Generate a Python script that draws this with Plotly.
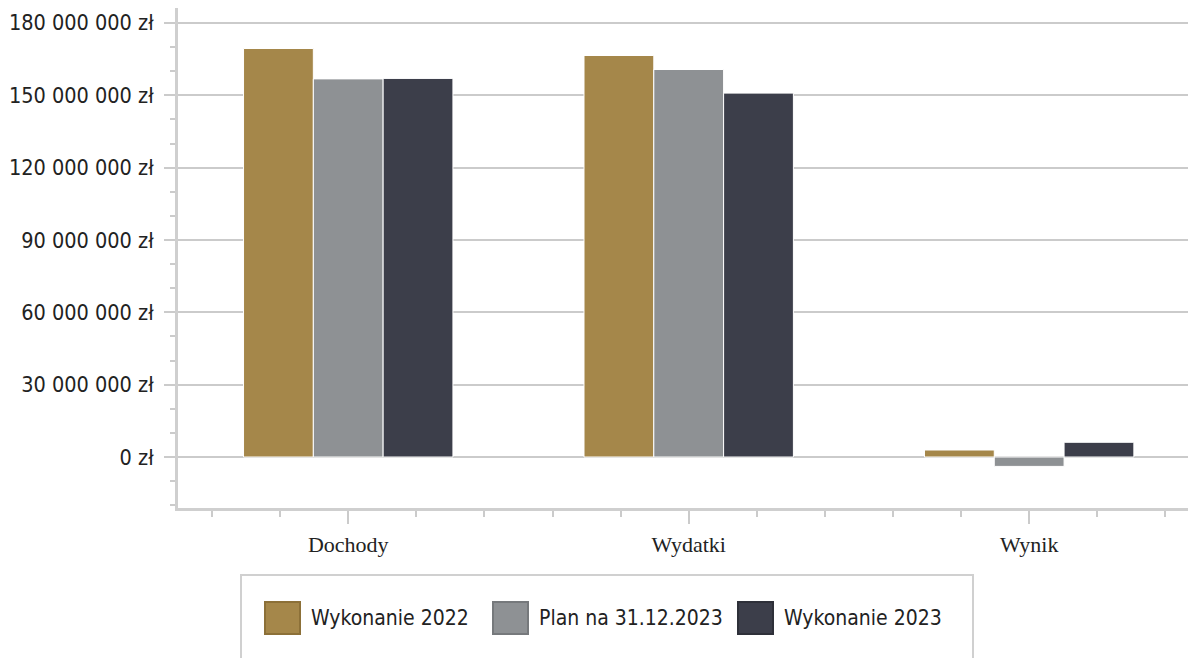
import plotly.graph_objects as go

categories = ["Dochody", "Wydatki", "Wynik"]
series_names = ["Wykonanie 2022", "Plan na 31.12.2023", "Wykonanie 2023"]
wykonanie_2022 = [169.4e6, 166.5e6, 2.9e6]
plan_2023 = [156.8e6, 160.7e6, -3.9e6]
wykonanie_2023 = [157.0e6, 150.9e6, 6.1e6]
series_values = [wykonanie_2022, plan_2023, wykonanie_2023]
colors = ["#A5874A", "#8E9194", "#3C3E4A"]
swatch_borders = ["#8C7038", "#76797C", "#2E3039"]

y_tick_vals = [0, 30e6, 60e6, 90e6, 120e6, 150e6, 180e6]
y_tick_text = ["0 zł", "30 000 000 zł", "60 000 000 zł", "90 000 000 zł",
               "120 000 000 zł", "150 000 000 zł", "180 000 000 zł"]

# page body has an 8px margin; figure sized to fit the window
OFF = 8
W, H = 1188, 650
ML, MR, MT, MB = 170, 0, 0, 150
PW, PH = W - ML - MR, H - MT - MB

def px_x(px):
    return (px - OFF - ML) / PW

def px_y(py):
    return (H - MB - (py - OFF)) / PH

SANS = "DejaVu Sans Condensed, DejaVu Sans, sans-serif"
SERIF = "Liberation Serif, Times New Roman, serif"
GRID = "#cbcbcb"

fig = go.Figure()
xpos = list(range(len(categories)))
for name, vals, col in zip(series_names, series_values, colors):
    fig.add_trace(go.Bar(
        x=xpos, y=vals, name=name,
        marker=dict(color=col, line=dict(color="white", width=1)),
        showlegend=False,
    ))

fig.update_layout(
    width=W, height=H,
    margin=dict(l=ML, r=MR, t=MT, b=MB, pad=0, autoexpand=False),
    paper_bgcolor="white", plot_bgcolor="white",
    barmode="group", bargap=0.385, bargroupgap=0.0,
    xaxis=dict(
        range=[-0.5, 2.49], automargin=False,
        tickmode="array", tickvals=xpos, ticktext=categories,
        ticks="outside", ticklen=13, tickwidth=2, tickcolor=GRID,
        showgrid=False, zeroline=False,
        showline=True, linecolor="#cfcfcf", linewidth=3, mirror=True,
        tickfont=dict(family=SERIF, size=22, color="#222222"),
        ticklabelstandoff=2,
        minor=dict(tickmode="linear", tick0=0, dtick=0.2, ticks="outside",
                   ticklen=6, tickwidth=2, tickcolor=GRID, showgrid=False),
    ),
    yaxis=dict(
        range=[-21.15e6, 186.2e6], automargin=False,
        tickmode="array", tickvals=y_tick_vals, ticktext=y_tick_text,
        ticks="outside", ticklen=11, tickwidth=2, tickcolor=GRID,
        showgrid=True, gridcolor=GRID, gridwidth=2,
        zeroline=False,
        showline=True, linecolor="#cfcfcf", linewidth=3,
        tickfont=dict(family=SANS, size=21.5, color="#222222"),
        ticklabelstandoff=6,
        minor=dict(tickmode="linear", tick0=0, dtick=10e6, ticks="outside",
                   ticklen=5, tickwidth=2, tickcolor=GRID, showgrid=False),
    ),
)

# legend box (manual, drawn larger like the reference)
fig.add_shape(type="rect", xref="paper", yref="paper",
              x0=px_x(241), x1=px_x(973), y0=px_y(575), y1=px_y(700),
              line=dict(color="#d0d0d0", width=2), fillcolor="rgba(0,0,0,0)")
swatch_x = [265, 493, 738]
for sx, name, col, bcol in zip(swatch_x, series_names, colors, swatch_borders):
    fig.add_shape(type="rect", xref="paper", yref="paper",
                  x0=px_x(sx), x1=px_x(sx + 35), y0=px_y(634), y1=px_y(602),
                  line=dict(color=bcol, width=2), fillcolor=col)
    fig.add_annotation(xref="paper", yref="paper", x=px_x(sx + 44), y=px_y(618),
                       xanchor="left", yanchor="middle", showarrow=False,
                       text=name, font=dict(family=SANS, size=21, color="#222222"))

fig.write_html("out.html")
